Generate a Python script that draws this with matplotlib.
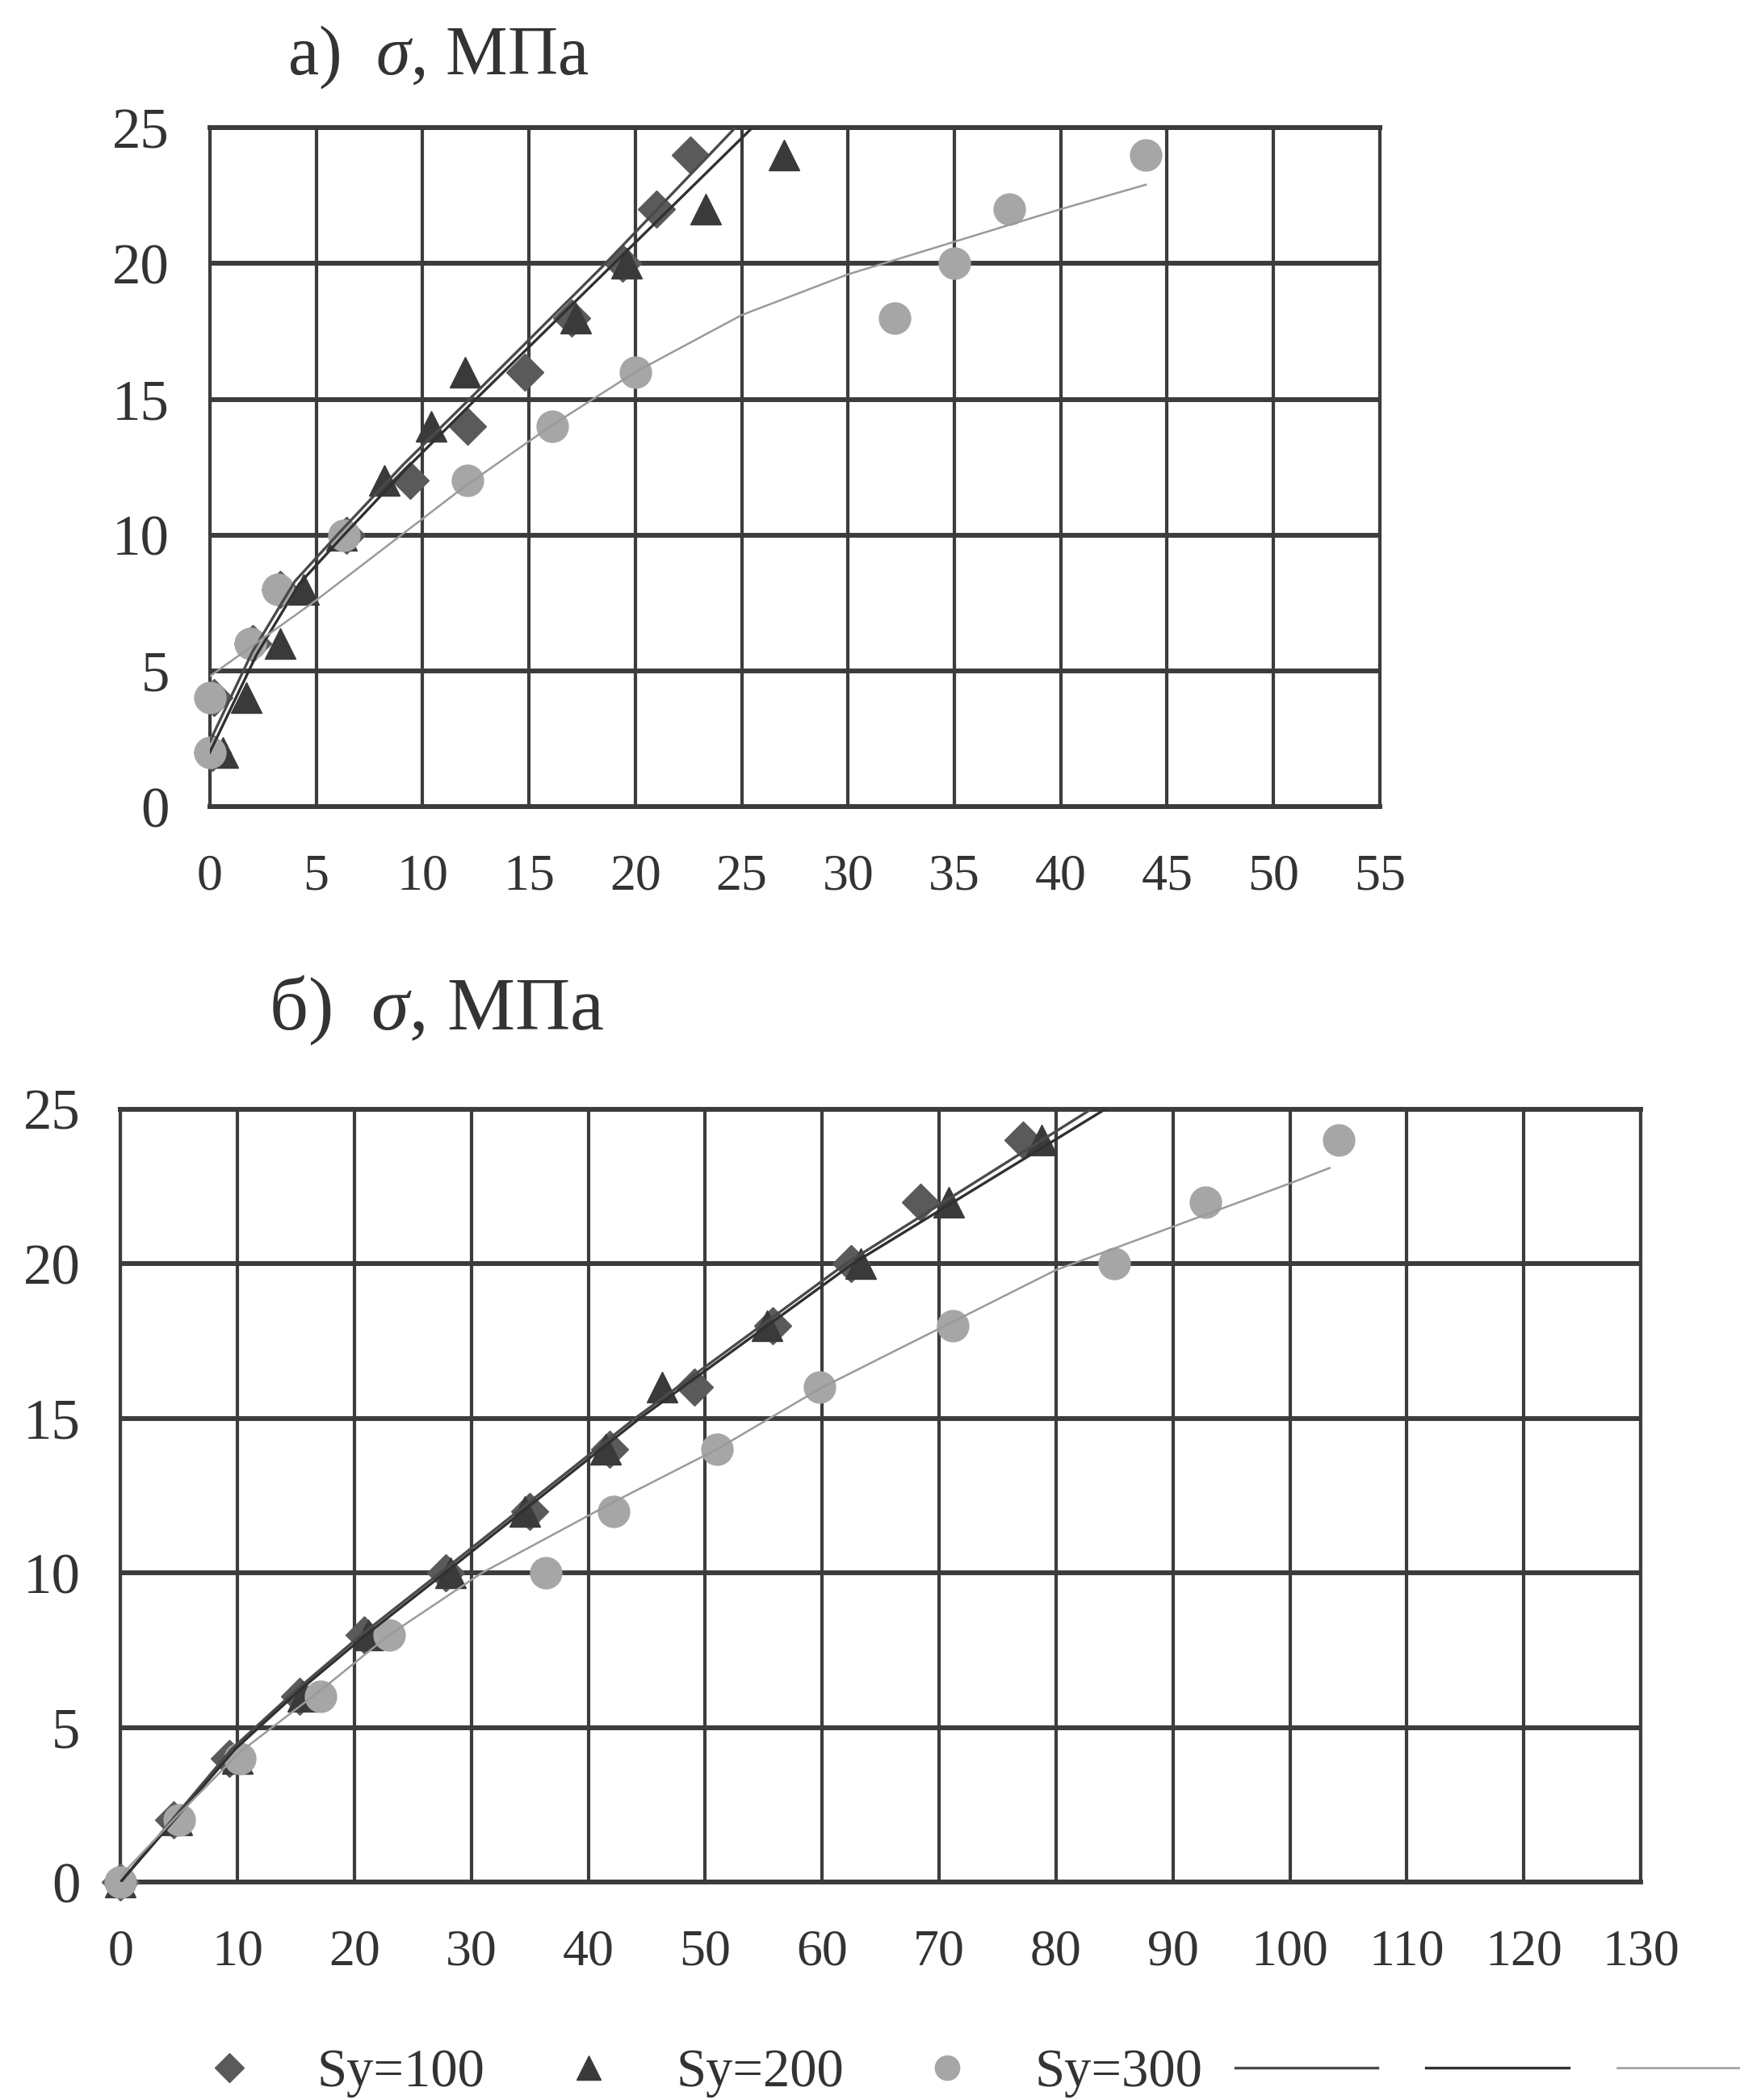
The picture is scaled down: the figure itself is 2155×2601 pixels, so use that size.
import numpy as np
import matplotlib.pyplot as plt

plt.rcParams['font.family'] = 'Liberation Serif'
plt.rcParams['mathtext.fontset'] = 'custom'
plt.rcParams['mathtext.rm'] = 'Liberation Serif'
plt.rcParams['mathtext.it'] = 'Liberation Serif:italic'

#%% data, panel a
levels_a = [2, 4, 6, 8, 10, 12, 14, 16, 18, 20, 22, 24]
x100_a = [0.1, 0.2, 2.0, 3.3, 6.4, 9.4, 12.1, 14.8, 17.0, 19.4, 21.0, 22.6]
x200_a = [0.6, 1.7, 3.3, 4.4, 6.2, 8.2, 10.4, 12.0, 17.2, 19.6, 23.3, 27.0]
x300_a = [0.0, 0.0, 1.9, 3.2, 6.3, 12.1, 16.1, 20.0, 32.2, 35.0, 37.6, 44.0]

# trend lines, panel a
t100_a_x = [0, 2.0, 4.0, 6.1, 9.1, 12.2, 18.6, 24.7, 26.0]
t100_a_y = [2.4, 5.7, 8.3, 10.1, 12.6, 15.0, 20.0, 25.0, 26.0]
t200_a_x = [0, 2.2, 4.2, 6.3, 9.3, 12.5, 19.0, 25.5, 27.0]
t200_a_y = [2.0, 5.6, 8.2, 10.0, 12.5, 15.0, 20.0, 25.0, 26.2]
t300_a_x = [0, 5, 9, 12, 16, 20, 25, 30, 35, 40, 44]
t300_a_y = [4.8, 7.6, 10.0, 11.8, 14.0, 16.0, 18.1, 19.6, 20.8, 22.0, 22.9]

#%% data, panel b
levels_b = [0, 2, 4, 6, 8, 10, 12, 14, 16, 18, 20, 22, 24]
x100_b = [0, 4.5, 9.3, 15.3, 20.8, 27.8, 35.0, 41.8, 49.1, 55.8, 62.5, 68.4, 77.2]
x200_b = [0, 4.8, 10.0, 15.6, 21.2, 28.2, 34.6, 41.5, 46.3, 55.3, 63.3, 70.8, 78.8]
x300_b = [0, 5.0, 10.2, 17.1, 23.0, 36.4, 42.2, 51.0, 59.8, 71.2, 85.0, 92.8, 104.2]

t100_b_x = [0, 4.6, 9.5, 15.0, 20.6, 28.0, 44.0, 62.0, 83.0, 86.0]
t100_b_y = [0, 2.1, 4.3, 6.2, 8.0, 10.2, 15.0, 20.0, 25.0, 25.7]
t200_b_x = [0, 4.8, 9.8, 15.3, 21.0, 28.4, 44.4, 62.6, 84.2, 87.0]
t200_b_y = [0, 2.1, 4.3, 6.2, 8.0, 10.2, 15.0, 20.0, 25.0, 25.6]
t300_b_x = [0, 5.0, 10.2, 17.1, 23.0, 30.9, 42.2, 51.0, 60.0, 70.0, 80.0, 90.0, 100.0, 103.4]
t300_b_y = [0.2, 2.2, 4.2, 6.2, 8.0, 10.0, 12.3, 14.0, 16.0, 17.9, 19.8, 21.2, 22.6, 23.1]

legend_labels = ['Sy=100', 'Sy=200', 'Sy=300', '', '', '']

grid_col = '#3c3c3c'
text_col = '#333333'
c100 = '#5a5a5a'
c200 = '#3a3a3a'
c300 = '#a6a6a6'


def style_axes(ax, xmax, xstep):
    ax.set_xlim(0, xmax)
    ax.set_ylim(0, 25)
    ax.set_xticks(np.arange(0, xmax + 1, xstep))
    ax.set_yticks(np.arange(0, 26, 5))
    ax.set_axisbelow(True)
    ax.grid(axis='x', color=grid_col, linewidth=3.0)
    ax.grid(axis='y', color=grid_col, linewidth=4.3)
    for side, sp in ax.spines.items():
        sp.set_color(grid_col)
        sp.set_linewidth(4.3 if side in ('top', 'bottom') else 3.0)
    ax.tick_params(length=0, colors=text_col)
    ax.tick_params(axis='x', labelsize=46, pad=42)
    ax.tick_params(axis='y', labelsize=51, pad=36)


def draw_panel(ax, levels, x100, x200, x300, lines):
    m1, = ax.plot(x100, levels, linestyle='none', marker='D', ms=23,
                  color=c100, zorder=3, clip_on=False)
    m2, = ax.plot(x200, levels, linestyle='none', marker='^', ms=28,
                  color=c200, zorder=4, clip_on=False)
    m3, = ax.plot(x300, levels, linestyle='none', marker='o', ms=28,
                  color=c300, zorder=5, clip_on=False)
    (ax1, ay1), (ax2, ay2), (ax3, ay3) = lines
    l1, = ax.plot(ax1, ay1, color='#4a4a4a', lw=2.4, zorder=6)
    l2, = ax.plot(ax2, ay2, color='#303030', lw=2.4, zorder=6)
    l3, = ax.plot(ax3, ay3, color='#9a9a9a', lw=1.8, zorder=6)
    return [m1, m2, m3, l1, l2, l3]


fig = plt.figure(figsize=(21.55, 26.01), dpi=100)

ax_a = fig.add_axes([0.1206, 0.6159, 0.6724, 0.3233])
style_axes(ax_a, 55, 5)
draw_panel(ax_a, levels_a, x100_a, x200_a, x300_a,
           [(t100_a_x, t100_a_y), (t200_a_x, t200_a_y), (t300_a_x, t300_a_y)])

ax_b = fig.add_axes([0.0693, 0.1038, 0.8736, 0.368])
style_axes(ax_b, 130, 10)
handles = draw_panel(ax_b, levels_b, x100_b, x200_b, x300_b,
                     [(t100_b_x, t100_b_y), (t200_b_x, t200_b_y), (t300_b_x, t300_b_y)])

fig.text(0.252, 0.9727, 'а)  $\\sigma$, МПа', ha='center', va='center',
         fontsize=62, color=text_col)
fig.text(0.251, 0.5187, 'б)  $\\sigma$, МПа', ha='center', va='center',
         fontsize=68, color=text_col)

fig.legend(handles=handles, labels=legend_labels, ncol=6, loc='center left',
           bbox_to_anchor=(0.091, 1 - 2568 / 2601), frameon=False, fontsize=48,
           handlelength=2.65, handletextpad=0.3, columnspacing=0.6,
           borderpad=0, borderaxespad=0, markerscale=0.78, labelcolor=text_col)

fig.savefig('out.png', dpi=100)
